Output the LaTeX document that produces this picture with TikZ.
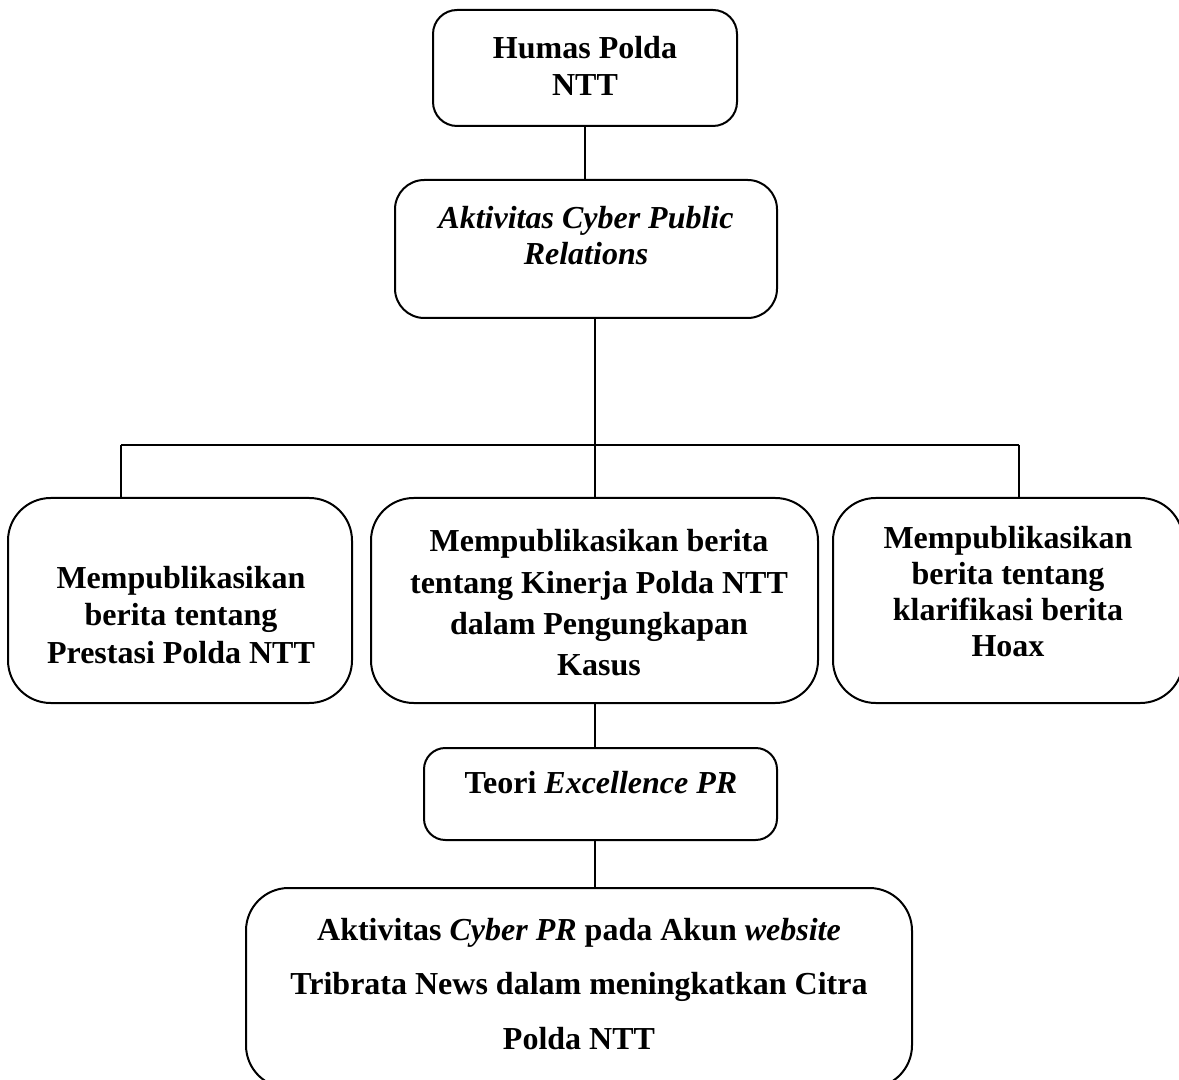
\documentclass[tikz,border=0pt]{standalone}
\usepackage{fontspec}
\setmainfont{Liberation Serif}
\tikzset{every picture/.style={line width=1.5pt}}
\tikzset{
  kotak/.style={draw, rounded corners=22, inner sep=0pt},
  teks/.style={align=center, inner sep=0.75pt, font=\bfseries\fontsize{24}{28}\selectfont},
}

\begin{document}
\begin{tikzpicture}[x=0.75pt,y=0.75pt,yscale=-1,xscale=1]
\clip (0,0) rectangle (1179,1080);

%Rounded Rect [humas]
\node [kotak, rounded corners=18, minimum width=304*0.75pt, minimum height=116*0.75pt] (humas) at (585,68) {};
%Rounded Rect [aktivitas]
\node [kotak, minimum width=382*0.75pt, minimum height=138*0.75pt] (aktivitas) at (586,249) {};
%Rounded Rect [prestasi]
\node [kotak, rounded corners=32, minimum width=344*0.75pt, minimum height=205*0.75pt] (prestasi) at (180,600.5) {};
%Rounded Rect [kinerja]
\node [kotak, rounded corners=32, minimum width=447*0.75pt, minimum height=205*0.75pt] (kinerja) at (594.5,600.5) {};
%Rounded Rect [hoax]
\node [kotak, rounded corners=32, minimum width=350*0.75pt, minimum height=205*0.75pt] (hoax) at (1008,600.5) {};
%Rounded Rect [teori]
\node [kotak, rounded corners=16, minimum width=353*0.75pt, minimum height=92*0.75pt] (teori) at (600.5,794) {};
%Rounded Rect [citra]
\node [kotak, rounded corners=32, minimum width=666*0.75pt, minimum height=200*0.75pt] (citra) at (579,988) {};

%Straight Lines
\draw (humas.south) -- (humas.south |- aktivitas.north) ;
\coordinate (cabangL) at (121,445) ;
\coordinate (cabangR) at (1019,445) ;
\draw (kinerja.north |- aktivitas.south) -- (kinerja.north) ;
\draw (cabangL) -- (cabangR) ;
\draw (cabangL) -- (cabangL |- prestasi.north) ;
\draw (cabangR) -- (cabangR |- hoax.north) ;
\draw (kinerja.south) -- (kinerja.south |- teori.north) ;
\draw (kinerja.south |- teori.south) -- (kinerja.south |- citra.north) ;

% Text Node
\node [teks] (humas-t) at (585,66) {Humas Polda\\NTT};
% Text Node
\node [teks, font=\bfseries\itshape\fontsize{24}{27}\selectfont] (aktivitas-t) at (586,236) {Aktivitas Cyber Public\\Relations};
% Text Node
\node [teks] (prestasi-t) at (181,615) {Mempublikasikan\\berita tentang\\Prestasi Polda NTT};
% Text Node
\node [teks, font=\bfseries\fontsize{24}{31}\selectfont] (kinerja-t) at (599,603) {Mempublikasikan berita\\tentang Kinerja Polda NTT\\dalam Pengungkapan\\Kasus};
% Text Node
\node [teks, font=\bfseries\fontsize{24}{27}\selectfont] (hoax-t) at (1008,592) {Mempublikasikan\\berita tentang\\klarifikasi berita\\Hoax};
% Text Node
\node [teks] (teori-t) at (601,783) {Teori \textit{Excellence PR}};
% Text Node
\node [teks, font=\bfseries\fontsize{24}{41}\selectfont] (citra-t) at (579,984) {Aktivitas \textit{Cyber PR} pada Akun \textit{website}\\Tribrata News dalam meningkatkan Citra\\Polda NTT};

\end{tikzpicture}
\end{document}
